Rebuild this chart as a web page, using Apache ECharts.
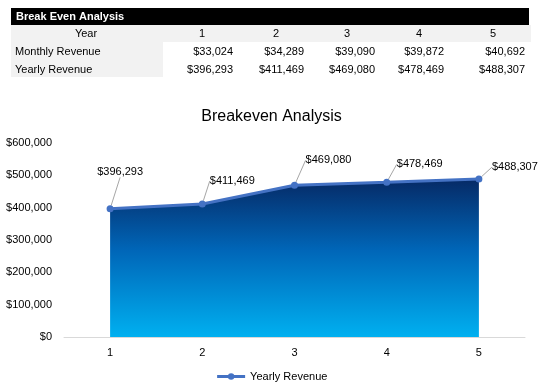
<!DOCTYPE html>
<html>
<head>
<meta charset="utf-8">
<script src="https://cdn.jsdelivr.net/npm/echarts@6/dist/echarts.min.js"></script>
<style>
html,body{margin:0;padding:0;background:#fff;}
#main{width:543px;height:391px;}
</style>
</head>
<body>
<div id="main"></div>
<script>
const tableTitle = 'Break Even Analysis';
const chartTitle = 'Breakeven Analysis';
const years = ['1', '2', '3', '4', '5'];
const monthlyRevenue = [33024, 34289, 39090, 39872, 40692];
const yearlyRevenue = [396293, 411469, 469080, 478469, 488307];
const seriesName = 'Yearly Revenue';

const fmt = v => '$' + v.toLocaleString('en-US');

// table layout (styles only)
const colRight = [233, 304, 375, 444, 525];
const colCenter = [202, 276, 347, 419, 493];
const labelOffsets = [[10, -23], [30, -9], [34, -11], [33, -4], [36, 2]];

const tf = 'Liberation Sans, Arial, sans-serif';
const graphics = [
  {type: 'rect', shape: {x: 11, y: 8, width: 518, height: 17}, style: {fill: '#000'}},
  {type: 'text', x: 16, y: 17, style: {text: tableTitle, fill: '#fff', font: 'bold 11px ' + tf, verticalAlign: 'middle'}},
  {type: 'rect', shape: {x: 11, y: 25, width: 520, height: 17}, style: {fill: '#f2f2f2'}},
  {type: 'rect', shape: {x: 11, y: 42, width: 152, height: 35}, style: {fill: '#f2f2f2'}},
  {type: 'text', x: 86, y: 34, style: {text: 'Year', fill: '#000', font: '11px ' + tf, align: 'center', verticalAlign: 'middle'}},
  {type: 'text', x: 15, y: 52, style: {text: 'Monthly Revenue', fill: '#000', font: '11px ' + tf, verticalAlign: 'middle'}},
  {type: 'text', x: 15, y: 70, style: {text: 'Yearly Revenue', fill: '#000', font: '11px ' + tf, verticalAlign: 'middle'}}
];
years.forEach((y, i) => {
  graphics.push({type: 'text', x: colCenter[i], y: 34, style: {text: y, fill: '#000', font: '11px ' + tf, align: 'center', verticalAlign: 'middle'}});
  graphics.push({type: 'text', x: colRight[i], y: 52, style: {text: fmt(monthlyRevenue[i]), fill: '#000', font: '11px ' + tf, align: 'right', verticalAlign: 'middle'}});
  graphics.push({type: 'text', x: colRight[i], y: 70, style: {text: fmt(yearlyRevenue[i]), fill: '#000', font: '11px ' + tf, align: 'right', verticalAlign: 'middle'}});
});

const cf = 'Liberation Sans, Arial, sans-serif';
const chart = echarts.init(document.getElementById('main'), null, {renderer: 'canvas'});
chart.setOption({
  animation: false,
  backgroundColor: '#fff',
  title: {
    text: chartTitle, left: 'center', top: 104,
    textStyle: {fontFamily: cf, fontSize: 16, fontWeight: 'normal', color: '#000'}
  },
  graphic: graphics,
  grid: {left: 64, right: 18, top: 143, bottom: 54},
  legend: {
    bottom: 4, left: 'center', itemWidth: 28, itemHeight: 8, itemGap: 4,
    textStyle: {fontFamily: cf, fontSize: 11, color: '#000'},
    lineStyle: {width: 3},
    data: [seriesName]
  },
  xAxis: {
    type: 'category', data: years, boundaryGap: true,
    axisLine: {lineStyle: {color: '#d9d9d9'}},
    axisTick: {show: false},
    axisLabel: {fontFamily: cf, fontSize: 11, color: '#000', margin: 10}
  },
  yAxis: {
    type: 'value', min: 0, max: 600000, interval: 100000,
    splitLine: {show: false},
    axisLine: {show: false}, axisTick: {show: false},
    axisLabel: {fontFamily: cf, fontSize: 11, color: '#000', margin: 12, formatter: v => fmt(v)}
  },
  series: [{
    name: seriesName, type: 'line', data: yearlyRevenue,
    symbol: 'circle', symbolSize: 7,
    lineStyle: {color: '#4472c4', width: 3},
    itemStyle: {color: '#4472c4'},
    areaStyle: {
      opacity: 1,
      color: new echarts.graphic.LinearGradient(0, 0, 0, 1, [
        {offset: 0, color: '#062a66'},
        {offset: 0.45, color: '#0066b8'},
        {offset: 1, color: '#00b0f0'}
      ])
    },
    label: {
      show: true, position: 'top', distance: 5,
      fontFamily: cf, fontSize: 11, color: '#000',
      formatter: p => fmt(p.value)
    },
    labelLine: {show: true, lineStyle: {color: '#a6a6a6', width: 1}},
    labelLayout: p => ({dx: labelOffsets[p.dataIndex][0], dy: labelOffsets[p.dataIndex][1]})
  }]
});
</script>
</body>
</html>
